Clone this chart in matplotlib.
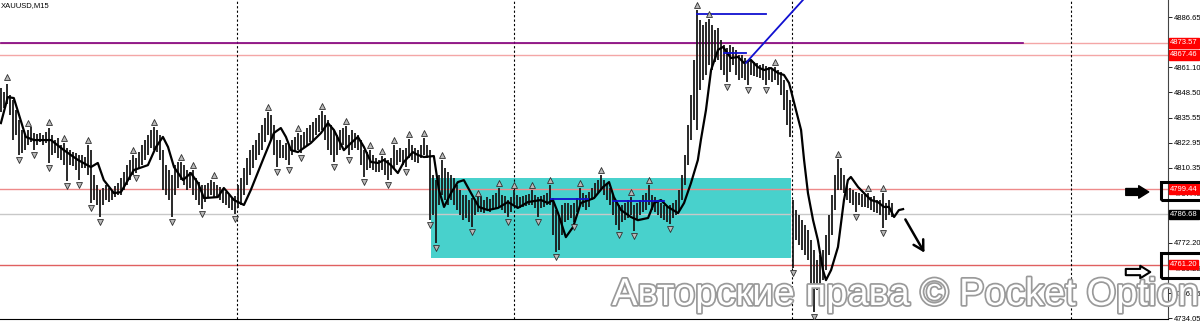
import numpy as np
import matplotlib
matplotlib.use('Agg')
import matplotlib.pyplot as plt
import matplotlib.patheffects as pe
from matplotlib.patches import Rectangle

plt.rcParams['font.family'] = ['Liberation Sans', 'DejaVu Sans']

# bar highs / lows, one value per M15 bar
highs = [4850.7, 4848.6, 4852.7, 4847.1, 4844.6, 4839.5, 4834.5, 4829.4, 4826.9, 4829.4,
         4831.0, 4827.9, 4827.4, 4827.9, 4826.9, 4828.4, 4830.4, 4826.9, 4824.3, 4825.3,
         4821.8, 4822.8, 4820.3, 4819.2, 4818.2, 4817.7, 4816.7, 4816.7, 4815.7, 4821.8,
         4819.2, 4806.6, 4801.5, 4799.0, 4800.0, 4801.5, 4800.0, 4799.0, 4801.0, 4802.5,
         4805.1, 4808.1, 4811.6, 4814.2, 4816.7, 4815.2, 4818.2, 4821.8, 4824.3, 4826.9,
         4829.4, 4830.9, 4829.4, 4826.9, 4819.2, 4811.6, 4809.1, 4806.6, 4811.6, 4813.2,
         4813.2, 4811.6, 4809.1, 4808.1, 4809.1, 4805.1, 4803.0, 4801.5, 4801.5, 4802.5,
         4804.0, 4803.0, 4801.5, 4800.5, 4799.0, 4797.9, 4796.4, 4795.4, 4795.9, 4801.5,
         4805.1, 4810.1, 4815.2, 4819.2, 4821.8, 4824.3, 4827.9, 4831.9, 4835.5, 4838.5,
         4837.0, 4831.9, 4824.3, 4824.3, 4821.8, 4822.8, 4821.8, 4824.3, 4825.9, 4827.9,
         4826.9, 4828.4, 4830.4, 4831.9, 4833.5, 4835.5, 4837.0, 4839.0, 4837.0, 4834.5,
         4831.9, 4829.4, 4826.9, 4829.4, 4830.4, 4831.4, 4826.9, 4829.4, 4827.9, 4826.9,
         4824.3, 4819.2, 4818.2, 4819.2, 4816.7, 4815.2, 4814.2, 4816.2, 4815.2, 4814.2,
         4815.2, 4821.8, 4819.2, 4820.3, 4819.2, 4820.3, 4824.8, 4821.8, 4820.3, 4819.2,
         4821.8, 4825.3, 4821.8, 4819.2, 4806.6, 4804.0, 4806.6, 4814.2, 4810.1, 4808.1,
         4806.6, 4805.1, 4801.5, 4799.0, 4796.4, 4796.4, 4793.9, 4794.9, 4793.9, 4796.4,
         4795.9, 4793.9, 4795.4, 4794.4, 4796.4, 4797.4, 4800.0, 4796.4, 4795.9, 4793.9,
         4795.4, 4799.0, 4796.4, 4795.4, 4795.9, 4796.4, 4796.9, 4799.0, 4796.4, 4795.4,
         4795.9, 4796.4, 4797.4, 4801.5, 4794.9, 4788.8, 4786.3, 4791.4, 4792.4, 4792.4,
         4791.4, 4792.4, 4794.9, 4800.0, 4797.4, 4796.4, 4797.9, 4800.0, 4802.5, 4804.0,
         4806.6, 4804.0, 4802.5, 4800.0, 4796.4, 4793.9, 4791.4, 4791.4, 4792.4, 4793.9,
         4795.4, 4791.4, 4792.4, 4793.9, 4796.4, 4797.4, 4801.5, 4796.4, 4795.4, 4793.9,
         4792.4, 4791.4, 4790.4, 4791.4, 4792.4, 4793.9, 4799.0, 4806.6, 4816.7, 4831.9,
         4847.1, 4864.9, 4890.2, 4885.2, 4882.6, 4884.1, 4885.7, 4882.6, 4880.1, 4881.1,
         4875.0, 4872.5, 4871.0, 4872.5, 4871.5, 4870.0, 4867.4, 4867.4, 4865.9, 4864.9,
         4864.9, 4863.9, 4863.4, 4862.3, 4862.8, 4861.8, 4861.3, 4860.8, 4861.3, 4859.8,
         4858.8, 4854.7, 4849.7, 4844.6, 4793.9, 4788.8, 4786.3, 4783.7, 4781.2, 4778.7,
         4773.6, 4768.5, 4763.5, 4766.0, 4768.5, 4776.1, 4786.3, 4796.4, 4806.6, 4814.7,
         4810.1, 4806.6, 4801.5, 4800.0, 4799.0, 4797.9, 4797.4, 4796.9, 4796.4, 4797.4,
         4795.4, 4795.9, 4793.9, 4793.9, 4797.4, 4792.4, 4793.9, 4792.4]
lows = [4838.5, 4840.5, 4842.6, 4837.0, 4824.3, 4826.9, 4816.7, 4817.7, 4819.2, 4821.8,
        4823.3, 4819.2, 4821.8, 4823.3, 4821.8, 4822.8, 4812.7, 4816.7, 4817.7, 4815.2,
        4814.2, 4811.6, 4803.5, 4811.6, 4811.1, 4809.1, 4804.0, 4810.1, 4810.1, 4806.6,
        4792.4, 4793.9, 4791.4, 4785.3, 4791.4, 4793.9, 4792.9, 4793.9, 4795.4, 4796.4,
        4796.4, 4799.0, 4801.5, 4804.0, 4806.6, 4807.6, 4810.1, 4811.6, 4814.2, 4816.7,
        4820.3, 4819.2, 4818.2, 4814.2, 4799.0, 4796.4, 4793.9, 4785.3, 4796.4, 4800.0,
        4804.0, 4801.5, 4799.0, 4800.0, 4796.4, 4793.9, 4791.4, 4789.3, 4792.9, 4794.9,
        4796.4, 4795.4, 4794.9, 4793.9, 4792.4, 4791.4, 4789.8, 4788.8, 4786.8, 4789.8,
        4791.4, 4796.4, 4801.5, 4806.6, 4810.1, 4814.2, 4816.7, 4819.2, 4823.3, 4826.9,
        4824.3, 4816.7, 4810.6, 4815.2, 4815.2, 4814.2, 4811.6, 4816.7, 4818.2, 4819.2,
        4817.7, 4820.3, 4821.8, 4823.3, 4824.3, 4826.9, 4828.4, 4829.4, 4824.3, 4819.2,
        4816.7, 4813.2, 4816.7, 4819.2, 4821.8, 4820.3, 4816.7, 4819.2, 4820.3, 4819.2,
        4811.6, 4805.6, 4809.1, 4810.1, 4809.1, 4808.1, 4808.1, 4809.1, 4806.6, 4804.0,
        4806.6, 4810.1, 4811.6, 4813.2, 4811.6, 4810.6, 4815.2, 4814.2, 4813.2, 4812.7,
        4815.2, 4816.7, 4815.2, 4783.7, 4786.3, 4772.1, 4791.4, 4796.4, 4793.9, 4791.4,
        4793.9, 4791.4, 4788.8, 4786.3, 4783.7, 4784.8, 4782.7, 4780.2, 4786.3, 4787.8,
        4787.8, 4787.3, 4788.8, 4787.8, 4788.8, 4789.8, 4790.4, 4788.8, 4787.3, 4785.3,
        4787.8, 4791.4, 4789.8, 4789.8, 4790.4, 4790.9, 4791.4, 4791.4, 4789.8, 4785.3,
        4789.8, 4790.4, 4791.4, 4791.4, 4776.1, 4767.5, 4768.5, 4776.1, 4782.7, 4783.7,
        4784.8, 4782.7, 4787.8, 4791.4, 4790.4, 4788.8, 4790.4, 4793.9, 4795.4, 4797.4,
        4799.0, 4796.4, 4793.9, 4791.4, 4786.3, 4781.2, 4778.7, 4782.7, 4783.7, 4784.8,
        4786.3, 4778.2, 4783.7, 4786.3, 4787.8, 4788.8, 4791.4, 4788.8, 4787.8, 4786.3,
        4784.8, 4783.7, 4782.7, 4781.7, 4784.8, 4786.3, 4787.8, 4793.9, 4801.5, 4811.6,
        4824.3, 4834.5, 4829.4, 4849.7, 4854.7, 4857.3, 4862.3, 4859.8, 4863.9, 4864.9,
        4859.8, 4857.3, 4853.7, 4858.8, 4862.3, 4857.3, 4854.7, 4855.8, 4854.7, 4852.2,
        4857.3, 4856.8, 4856.3, 4855.8, 4854.7, 4852.2, 4854.7, 4853.7, 4854.7, 4852.2,
        4847.1, 4839.5, 4831.9, 4825.9, 4759.4, 4773.6, 4771.1, 4768.5, 4766.0, 4763.5,
        4748.2, 4737.1, 4748.2, 4750.8, 4753.3, 4758.4, 4766.0, 4776.1, 4788.8, 4799.0,
        4799.0, 4797.4, 4793.9, 4792.4, 4791.4, 4787.8, 4791.4, 4790.4, 4790.4, 4789.8,
        4788.8, 4787.8, 4787.3, 4786.3, 4779.7, 4783.7, 4786.3, 4785.3]

# moving average line (bar index, price)
ma_idx = [0, 2.3, 4.3, 8.3, 11, 16.7, 21, 25.7, 30, 32.3, 34.3, 37.7, 40, 44.3, 49, 51.7,
          54, 55.7, 57.7, 60.7, 63.3, 65.7, 67.7, 72.3, 74.3, 77.7, 81, 83.3, 87.7, 91,
          93.3, 95, 96.7, 99, 103.3, 106.7, 109, 111, 114.3, 116.7, 119, 121, 123.3,
          125.7, 127.7, 130, 132.3, 134.3, 137.3, 139, 141, 144.3, 146, 147.7, 150,
          152.3, 154.3, 156.7, 159.3, 162.3, 165.7, 169, 172.3, 175.7, 180, 182.3, 184,
          185.7, 188.3, 190.7, 193.3, 197.7, 200.7, 202.7, 204.3, 206.7, 210, 212.3,
          215.7, 217.7, 220, 222.3, 225.7, 227.7, 230, 232.3, 233.3, 235, 236.7, 239,
          240.7, 243.3, 245.7, 247.7, 250, 252.3, 254.3, 256.7, 259, 261, 262.7, 265,
          266.7, 267.7, 269, 270.7, 272.3, 274, 275, 276.7, 279, 281, 282.3, 283.3,
          285.7, 287.7, 290, 292.3, 294.3, 296, 297.7, 299.3, 300.7]
ma_val = [4832.9, 4846.1, 4845.6, 4825.9, 4824.3, 4824.3, 4819.2, 4814.2, 4810.6, 4812.7,
          4804.0, 4797.4, 4797.9, 4809.1, 4811.6, 4820.8, 4825.9, 4820.8, 4810.6, 4804.0,
          4807.6, 4802.5, 4794.9, 4795.4, 4800.0, 4793.9, 4791.4, 4799.0, 4815.7, 4827.9,
          4830.4, 4825.9, 4819.2, 4818.2, 4822.8, 4827.9, 4832.9, 4829.4, 4819.2, 4822.8,
          4825.9, 4820.8, 4813.2, 4812.7, 4814.2, 4811.6, 4807.6, 4813.2, 4818.2, 4816.7,
          4815.7, 4816.2, 4799.0, 4790.4, 4797.4, 4803.0, 4804.0, 4797.4, 4790.4, 4788.8,
          4789.9, 4792.9, 4789.9, 4792.9, 4793.9, 4792.4, 4793.9, 4787.3, 4775.1, 4780.2,
          4792.4, 4794.9, 4800.5, 4803.0, 4795.4, 4788.8, 4785.3, 4783.7, 4784.8, 4792.4,
          4793.9, 4790.4, 4787.3, 4792.4, 4802.5, 4814.2, 4824.3, 4839.5, 4859.8, 4870.0,
          4871.5, 4865.9, 4866.4, 4863.4, 4864.9, 4861.3, 4859.8, 4860.8, 4858.3, 4857.3,
          4853.2, 4839.5, 4829.4, 4814.2, 4797.4, 4783.7, 4773.6, 4758.4, 4753.3, 4758.4,
          4770.1, 4793.9, 4804.0, 4805.6, 4800.5, 4797.4, 4793.9, 4792.9, 4790.4, 4790.4,
          4785.3, 4788.8, 4789.3]

# fractal arrows
up_idx = [2, 9, 16, 21, 29, 44, 51, 60, 64, 71, 89, 99, 107, 115, 123, 127, 131, 136, 141,
          147, 159, 166, 171, 177, 183, 193, 200, 210, 216, 232, 236, 258, 279, 289, 294]
up_val = [4856.3, 4832.9, 4833.5, 4825.3, 4824.3, 4819.2, 4833.5, 4815.7, 4811.6, 4806.6,
          4841.0, 4830.4, 4841.6, 4834.0, 4821.8, 4818.7, 4824.3, 4827.4, 4827.9, 4816.7,
          4797.4, 4802.5, 4801.5, 4801.5, 4804.0, 4802.5, 4809.1, 4797.9, 4804.0, 4892.8,
          4888.2, 4863.9, 4817.2, 4800.0, 4800.0]
dn_idx = [6, 11, 16, 22, 26, 30, 33, 45, 57, 67, 78, 92, 96, 100, 111, 116, 121, 129, 135,
          143, 145, 157, 169, 179, 185, 191, 206, 211, 223, 242, 249, 255, 264, 271, 285, 294]
dn_val = [4814.2, 4816.7, 4810.1, 4801.0, 4801.5, 4789.8, 4782.7, 4805.1, 4782.7, 4786.8,
          4784.3, 4808.1, 4809.1, 4815.2, 4810.6, 4814.2, 4803.0, 4801.5, 4808.1, 4781.2,
          4769.6, 4777.7, 4782.7, 4782.7, 4765.0, 4780.2, 4776.1, 4775.6, 4779.2, 4851.2,
          4849.7, 4849.7, 4756.9, 4734.6, 4785.3, 4777.2]

# levels
levels = [4873.57, 4867.46, 4799.44, 4761.20]
level_colors = ['#f4a6a6', '#f4a6a6', '#ee8a8a', '#e06060']
bid = 4786.68
purple_level = 4873.57
purple_end = 340.7
day_breaks = [78.7, 171, 263.7, 356.7]
zone = (143.3, 263.3, 4764.4, 4805.0)
blue_segs = [((232, 255), (4888.2, 4888.2)),
             ((241, 248.3), (4868.4, 4868.4)),
             ((248.3, 270), (4863.4, 4899.8)),
             ((183.3, 195.7), (4794.4, 4794.4)),
             ((204, 221), (4793.4, 4793.4))]
# 4874.05 sits under the 4873.57 label in the reference, so it is left out
yticks = [4886.65, 4861.10, 4848.50, 4835.55, 4822.95, 4810.35, 4797.40,
          4784.80, 4772.20, 4759.25, 4746.65, 4734.05]

fig = plt.figure(figsize=(12, 3.21), dpi=100)
ax = fig.add_axes([0, 2/321, 1168/1200, 319/321])
ax.set_xlim(-0.3, 389.0)
ax.set_ylim(4733.6, 4895.3)

x = np.arange(len(highs))
ax.add_patch(Rectangle((zone[0], zone[2]), zone[1]-zone[0], zone[3]-zone[2],
                       fc='#48d1cc', ec='none', zorder=0.5))
for lv, c in zip(levels, level_colors):
    ax.axhline(lv, color=c, lw=1, zorder=1)
ax.axhline(bid, color='#c8c8c8', lw=1, zorder=1)
ax.plot([0, purple_end], [purple_level, purple_level], color='#800080', lw=1.2, zorder=1.2)
for d in day_breaks:
    ax.axvline(d, color='black', lw=0.8, ls=(0, (2, 2)), zorder=1)

ax.vlines(x, lows, highs, color='#181818', lw=1.3, zorder=2)
ax.plot(ma_idx, ma_val, color='black', lw=1.6, zorder=3)
for sx, sy in blue_segs:
    ax.plot(sx, sy, color='#1010d0', lw=1.3, zorder=3)

ax.scatter(up_idx, up_val, marker='^', s=18, c='#b8b8b8', edgecolors='#303030',
           linewidths=0.6, zorder=4)
ax.scatter(dn_idx, dn_val, marker='v', s=18, c='#b8b8b8', edgecolors='#303030',
           linewidths=0.6, zorder=4)

# hand-drawn arrows
ax.annotate('', xy=(308.3, 4766.0), xytext=(301, 4785.3),
            arrowprops=dict(arrowstyle='->,head_length=0.7,head_width=0.4', color='black', lw=1.8))
ax.annotate('', xy=(383.5, 4798.0), xytext=(374, 4798.0),
            arrowprops=dict(arrowstyle='simple,head_length=0.8,head_width=1.0,tail_width=0.55',
                            fc='black', ec='black', mutation_scale=9))
ax.annotate('', xy=(384, 4757.4), xytext=(374, 4757.4),
            arrowprops=dict(arrowstyle='simple,head_length=0.8,head_width=1.0,tail_width=0.5',
                            fc='white', ec='black', lw=1.5, mutation_scale=9))

for spine in ['top', 'left']:
    ax.spines[spine].set_visible(False)
ax.spines['right'].set_color('#444')
ax.spines['bottom'].set_color('black')
ax.set_xticks([])
ax.yaxis.tick_right()
ax.set_yticks(yticks)
ax.set_yticklabels(['%.2f' % v for v in yticks])
ax.tick_params(axis='y', direction='out', length=3, width=0.6, pad=1, labelsize=5.5)

yt = ax.get_yaxis_transform()
for lv in levels:
    ax.text(1.0015, lv, '%.2f' % lv, transform=yt, color='white', fontsize=5.5, va='center',
            ha='left', bbox=dict(fc='red', ec='red', pad=0.9), zorder=10, clip_on=False)
ax.text(1.0015, bid, '%.2f' % bid, transform=yt, color='white', fontsize=5.5, va='center',
        ha='left', bbox=dict(fc='black', ec='black', pad=0.9), zorder=10, clip_on=False)
ax.add_patch(Rectangle((0.994, 4793.9), 0.04, 9.1, transform=yt, fill=False, ec='black',
                       lw=2.2, clip_on=False, zorder=11))
ax.add_patch(Rectangle((0.994, 4754.4), 0.04, 12.6, transform=yt, fill=False, ec='black',
                       lw=2.2, clip_on=False, zorder=11))

ax.text(0.001, 0.995, 'XAUUSD,M15', transform=ax.transAxes, fontsize=5.5, va='top', ha='left')

fig.text(612/1200, 16/321, 'Авторские права © Pocket Option', fontsize=27.5, color='white',
         ha='left', va='baseline', zorder=20,
         path_effects=[pe.withStroke(linewidth=2.5, foreground='#9a9a9a')])

fig.savefig('out.png', dpi=100)
